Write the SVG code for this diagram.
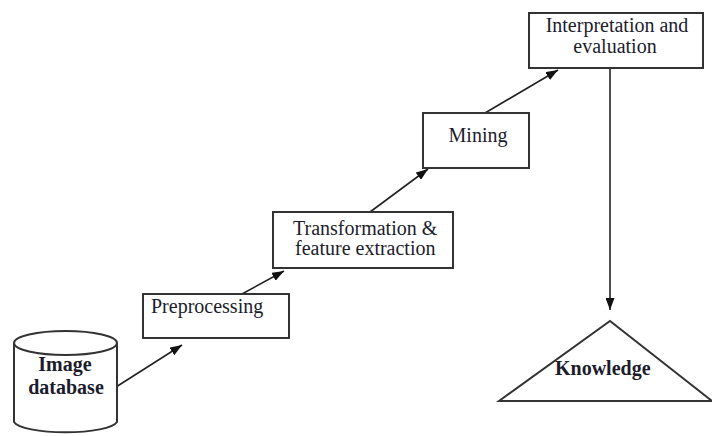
<svg xmlns="http://www.w3.org/2000/svg" width="712" height="436" viewBox="0 0 712 436">
<style>
.box{fill:#fff;stroke:#333;stroke-width:2}
.t{font-family:"Liberation Serif","Times New Roman",serif;font-size:20px;fill:#1c1c2c}
.b{font-weight:bold}
.c{stroke:#222;stroke-width:1.6;fill:none;marker-end:url(#ah)}
</style>
<defs>
<marker id="ah" markerUnits="userSpaceOnUse" markerWidth="13" markerHeight="9" refX="12" refY="4.5" orient="auto">
<path d="M0,0 L12,4.5 L0,9 z" fill="#111"/>
</marker>
</defs>
<rect width="712" height="436" fill="#fff"/>
<g id="connectors">
<line class="c" x1="116" y1="387" x2="182" y2="345"/>
<line class="c" x1="242" y1="294" x2="284" y2="271"/>
<line class="c" x1="370" y1="212" x2="428" y2="169"/>
<line class="c" x1="485" y1="113" x2="558" y2="70"/>
<line class="c" x1="610" y1="68" x2="610" y2="310"/>
</g>
<g id="image-database">
<path d="M14,343 L14,422 A52,12 0 0 0 117,422 L117,343" fill="#fff" stroke="#333" stroke-width="2"/>
<ellipse cx="65.5" cy="343" rx="51.5" ry="12" fill="#fff" stroke="#333" stroke-width="2"/>
<text class="t b" x="65" y="371" text-anchor="middle">Image</text>
<text class="t b" x="66" y="394" text-anchor="middle">database</text>
</g>
<g id="preprocessing">
<rect class="box" x="143" y="294" width="146" height="44"/>
<text class="t" x="151" y="313">Preprocessing</text>
</g>
<g id="transformation">
<rect class="box" x="273" y="212" width="180" height="56"/>
<text class="t" x="293" y="235">Transformation &amp;</text>
<text class="t" x="295" y="255">feature extraction</text>
</g>
<g id="mining">
<rect class="box" x="423" y="113" width="106" height="55"/>
<text class="t" x="478" y="142" text-anchor="middle">Mining</text>
</g>
<g id="interpretation">
<rect class="box" x="529" y="13" width="174" height="55"/>
<text class="t" x="617" y="32" text-anchor="middle">Interpretation and</text>
<text class="t" x="615" y="53" text-anchor="middle">evaluation</text>
</g>
<g id="knowledge">
<path d="M499,401 L610,321 L712,401 Z" fill="#fff" stroke="#333" stroke-width="2"/>
<text class="t b" x="555" y="375">Knowledge</text>
</g>
</svg>
